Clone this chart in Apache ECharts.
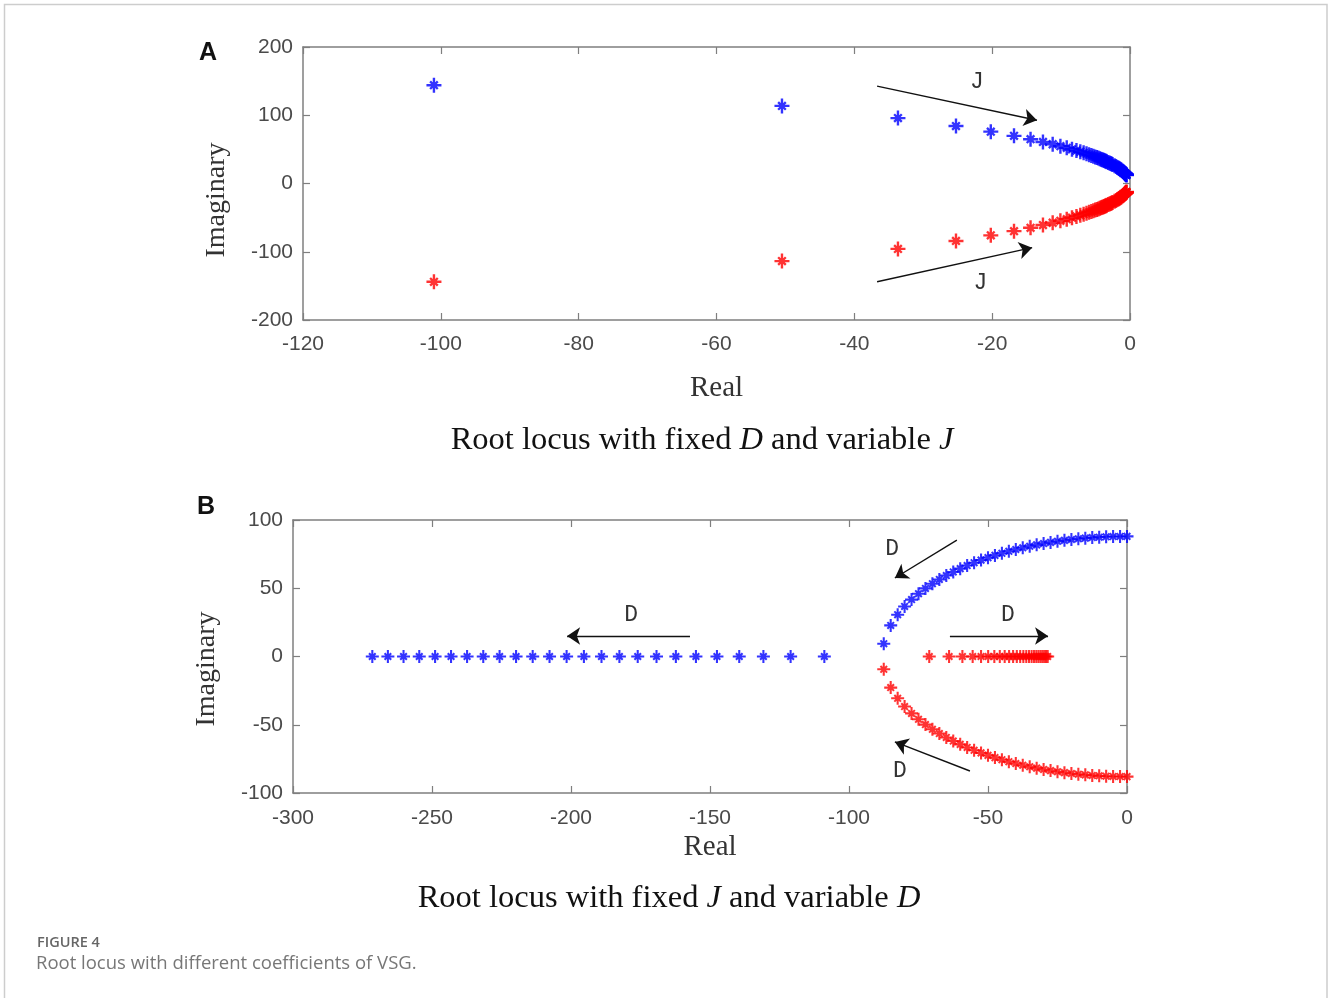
<!DOCTYPE html>
<html>
<head>
<meta charset="utf-8">
<script src="https://cdn.jsdelivr.net/npm/echarts@6/dist/echarts.min.js"></script>
<style>
html,body{margin:0;padding:0;background:#fff;}
#chart{width:1328px;height:998px;}
</style>
</head>
<body>
<div id="chart"></div>
<script>
// ---------- Panel A: fixed D, variable J ----------
const A_RE = [-101.0,-50.5,-33.67,-25.25,-20.2,-16.83,-14.43,-12.63,-11.22,-10.1,-9.18,-8.42,-7.77,-7.21,-6.73,-6.31,-5.94,-5.61,-5.32,-5.05,-4.81,-4.59,-4.39,-4.21,-4.04,-3.88,-3.74,-3.61,-3.48,-3.37,-3.16,-2.97,-2.81,-2.66,-2.53,-2.24,-2.02,-1.84,-1.68,-1.55,-1.44,-1.35,-1.26,-1.12,-1.01,-0.92,-0.84,-0.78,-0.72,-0.67,-0.63,-0.59,-0.56,-0.53,-0.51];
const A_IM_UP = [144.0,113.7,95.8,84.2,76.0,69.8,64.9,60.9,57.5,54.7,52.2,50.1,48.2,46.5,44.9,43.5,42.2,41.1,40.0,39.0,38.1,37.2,36.4,35.7,34.9,34.3,33.6,33.0,32.5,31.9,30.9,30.0,29.2,28.4,27.7,26.1,24.8,23.6,22.6,21.8,21.0,20.3,19.6,18.5,17.6,16.7,16.0,15.4,14.8,14.3,13.9,13.5,13.1,12.7,12.4];
const A_IM_DN = [-144.0,-113.7,-95.8,-84.2,-76.0,-69.8,-64.9,-60.9,-57.5,-54.7,-52.2,-50.1,-48.2,-46.5,-44.9,-43.5,-42.2,-41.1,-40.0,-39.0,-38.1,-37.2,-36.4,-35.7,-34.9,-34.3,-33.6,-33.0,-32.5,-31.9,-30.9,-30.0,-29.2,-28.4,-27.7,-26.1,-24.8,-23.6,-22.6,-21.8,-21.0,-20.3,-19.6,-18.5,-17.6,-16.7,-16.0,-15.4,-14.8,-14.3,-13.9,-13.5,-13.1,-12.7,-12.4];

// ---------- Panel B: fixed J, variable D ----------
const B_CPX_RE = [0,-2.5,-5,-7.5,-10,-12.5,-15,-17.5,-20,-22.5,-25,-27.5,-30,-32.5,-35,-37.5,-40,-42.5,-45,-47.5,-50,-52.5,-55,-57.5,-60,-62.5,-65,-67.5,-70,-72.5,-75,-77.5,-80,-82.5,-85,-87.5];
const B_CPX_IM_UP = [88.0,87.96,87.86,87.68,87.43,87.11,86.71,86.24,85.70,85.08,84.37,83.59,82.73,81.78,80.74,79.61,78.38,77.06,75.62,74.08,72.42,70.62,68.70,66.62,64.37,61.95,59.32,56.46,53.33,49.88,46.03,41.69,36.66,30.62,22.78,9.37];
const B_CPX_IM_DN = [-88.0,-87.96,-87.86,-87.68,-87.43,-87.11,-86.71,-86.24,-85.70,-85.08,-84.37,-83.59,-82.73,-81.78,-80.74,-79.61,-78.38,-77.06,-75.62,-74.08,-72.42,-70.62,-68.70,-66.62,-64.37,-61.95,-59.32,-56.46,-53.33,-49.88,-46.03,-41.69,-36.66,-30.62,-22.78,-9.37];
const B_REAL_LEFT = [-108.87,-121.0,-130.79,-139.48,-147.5,-155.06,-162.28,-169.24,-176.0,-182.59,-189.03,-195.36,-201.58,-207.72,-213.78,-219.76,-225.69,-231.56,-237.38,-243.15,-248.89,-254.58,-260.24,-265.87,-271.47];
const B_REAL_RIGHT = [-71.13,-64.0,-59.21,-55.52,-52.5,-49.94,-47.72,-45.76,-44.0,-42.41,-40.97,-39.64,-38.42,-37.28,-36.22,-35.24,-34.31,-33.44,-32.62,-31.85,-31.11,-30.42,-29.76,-29.13,-28.53];

// Axis tick settings
const A_X_RANGE = [-120, 0, 20];
const A_Y_RANGE = [-200, 200, 100];
const B_X_RANGE = [-300, 0, 50];
const B_Y_RANGE = [-100, 100, 50];

// Annotation arrows (data coords) and labels
const A_ARROWS = [[[-36.7, 142.6], [-13.5, 92.6]], [[-36.7, -144], [-14.2, -94]]];
const A_ARROW_TEXT = [[[-22.2, 149], 'J'], [[-21.7, -146], 'J']];
const B_ARROWS = [[[-157.2, 15], [-201.4, 15]], [[-63.7, 15], [-28.4, 15]], [[-61.2, 85.3], [-83.5, 57.5]], [[-56.5, -83.9], [-83.5, -62.6]]];
const B_ARROW_TEXT = [[[-178.4, 30.4], 'D'], [[-42.8, 30.4], 'D'], [[-84.5, 79], 'D'], [[-81.7, -84], 'D']];

const zip = (xs, ys) => xs.map((x, i) => [x, ys[i]]);
const onAxis = (xs) => xs.map(x => [x, 0]);

const STAR = 'path://M0 4.2L10 4.2L10 5.8L0 5.8Z M4.2 0L5.8 0L5.8 10L4.2 10Z M1.9 3L3 1.9L8.1 7L7 8.1Z M7 1.9L8.1 3L3 8.1L1.9 7Z';
const AXIS_COLOR = '#7f7f7f';
const LABEL_FONT = 'Liberation Sans';
const SERIF = 'Liberation Serif';

function xAx(grid, range, pos, show, margin) {
  return {
    type: 'value', gridIndex: grid, position: pos,
    min: range[0], max: range[1], interval: range[2],
    axisLine: { show: true, onZero: false, lineStyle: { color: AXIS_COLOR, width: 1.5 } },
    axisTick: { show: true, inside: true, length: 7, lineStyle: { color: AXIS_COLOR, width: 1.2 } },
    axisLabel: { show: show, fontFamily: LABEL_FONT, fontSize: 21, color: '#4a4a4a', margin: margin || 12 },
    splitLine: { show: false }
  };
}
function yAx(grid, range, pos, show) {
  return {
    type: 'value', gridIndex: grid, position: pos,
    min: range[0], max: range[1], interval: range[2],
    axisLine: { show: true, onZero: false, lineStyle: { color: AXIS_COLOR, width: 1.5 } },
    axisTick: { show: true, inside: true, length: 7, lineStyle: { color: AXIS_COLOR, width: 1.2 } },
    axisLabel: { show: show, fontFamily: LABEL_FONT, fontSize: 21, color: '#4a4a4a', margin: 10 },
    splitLine: { show: false }
  };
}

const xAxes = [
  Object.assign(xAx(0, A_X_RANGE, 'bottom', true, 14), {
    name: 'Real', nameLocation: 'middle', nameGap: 54,
    nameTextStyle: { fontFamily: SERIF, fontSize: 29, color: '#333' }
  }),
  xAx(0, A_X_RANGE, 'top', false),
  Object.assign(xAx(1, B_X_RANGE, 'bottom', true, 15), {
    name: 'Real', nameLocation: 'middle', nameGap: 40,
    nameTextStyle: { fontFamily: SERIF, fontSize: 29, color: '#333' }
  }),
  xAx(1, B_X_RANGE, 'top', false)
];
const yAxes = [
  yAx(0, A_Y_RANGE, 'left', true),
  yAx(0, A_Y_RANGE, 'right', false),
  yAx(1, B_Y_RANGE, 'left', true),
  yAx(1, B_Y_RANGE, 'right', false)
];

function starSeries(data, color, xi, yi, size) {
  return {
    type: 'scatter', xAxisIndex: xi, yAxisIndex: yi, data: data,
    symbol: STAR, symbolSize: size, clip: false, silent: true,
    itemStyle: { color: color, opacity: 0.8 },
    emphasis: { disabled: true }
  };
}
function arrowLayer(arrows, texts, xi, yi) {
  return {
    type: 'scatter', xAxisIndex: xi, yAxisIndex: yi, data: [], silent: true,
    markLine: {
      silent: true, animation: false,
      symbol: ['none', 'arrow'], symbolSize: 13,
      label: { show: false },
      lineStyle: { color: '#111', width: 1.4, type: 'solid' },
      data: arrows.map(a => [{ coord: a[0] }, { coord: a[1] }])
    },
    markPoint: {
      silent: true, animation: false,
      symbol: 'circle', symbolSize: 0,
      label: { show: true, position: 'inside', fontFamily: 'Liberation Mono', fontSize: 23, color: '#333' },
      data: texts.map(t => ({ coord: t[0], value: t[1], label: { formatter: t[1] } }))
    }
  };
}

const captionRich = {
  n: { fontFamily: SERIF, fontSize: 32.5, fill: '#111' },
  i: { fontFamily: SERIF, fontSize: 32.5, fontStyle: 'italic', fill: '#111' }
};

const option = {
  animation: false,
  backgroundColor: '#fff',
  grid: [
    { left: 303, top: 47, width: 827, height: 273 },
    { left: 293, top: 520, width: 834, height: 273 }
  ],
  xAxis: xAxes,
  yAxis: yAxes,
  series: [
    starSeries(zip(A_RE, A_IM_UP), '#0000ff', 0, 0, 15),
    starSeries(zip(A_RE, A_IM_DN), '#ff0000', 0, 0, 15),
    starSeries(zip(B_CPX_RE, B_CPX_IM_UP).concat(onAxis(B_REAL_LEFT)), '#0000ff', 2, 2, 13),
    starSeries(zip(B_CPX_RE, B_CPX_IM_DN).concat(onAxis(B_REAL_RIGHT)), '#ff0000', 2, 2, 13),
    arrowLayer(A_ARROWS, A_ARROW_TEXT, 0, 0),
    arrowLayer(B_ARROWS, B_ARROW_TEXT, 2, 2)
  ],
  graphic: [
    { type: 'rect', silent: true, z: -1,
      shape: { x: 4.5, y: 4.5, width: 1322.5, height: 1010 },
      style: { fill: 'none', stroke: '#cdcdcd', lineWidth: 1.5 } },
    { type: 'text', left: 199, top: 41,
      style: { text: 'A', font: 'bold 25px "Liberation Sans"', fill: '#111' } },
    { type: 'text', left: 197, top: 495,
      style: { text: 'B', font: 'bold 25px "Liberation Sans"', fill: '#111' } },
    { type: 'text', x: 217, y: 200, rotation: Math.PI / 2,
      style: { text: 'Imaginary', font: '28px "Liberation Serif"', fill: '#333', align: 'center', verticalAlign: 'middle' } },
    { type: 'text', x: 207, y: 669, rotation: Math.PI / 2,
      style: { text: 'Imaginary', font: '28px "Liberation Serif"', fill: '#333', align: 'center', verticalAlign: 'middle' } },
    { type: 'text', x: 702, y: 440,
      style: {
        text: '{n|Root locus with fixed }{i|D}{n| and variable }{i|J}',
        align: 'center', verticalAlign: 'middle', rich: captionRich
      } },
    { type: 'text', x: 669, y: 898,
      style: {
        text: '{n|Root locus with fixed }{i|J}{n| and variable }{i|D}',
        align: 'center', verticalAlign: 'middle', rich: captionRich
      } },
    { type: 'text', left: 37, top: 935,
      style: { text: 'FIGURE 4', font: '600 14.5px "Open Sans"', fill: '#666' } },
    { type: 'text', left: 36, top: 954,
      style: { text: 'Root locus with different coefficients of VSG.', font: '18.5px "Open Sans"', fill: '#777' } }
  ]
};

const chart = echarts.init(document.getElementById('chart'), null, { renderer: 'canvas' });
chart.setOption(option);
</script>
</body>
</html>
